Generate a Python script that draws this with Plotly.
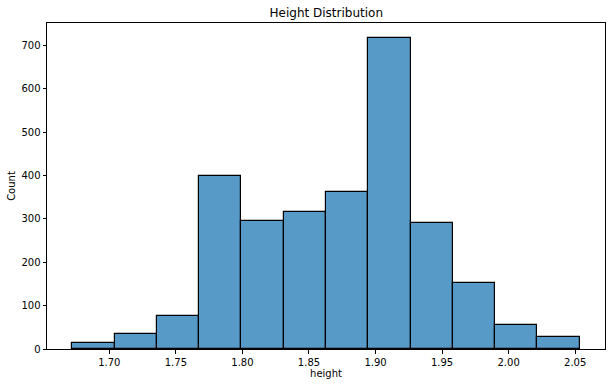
import plotly.graph_objects as go

bin_edges = [1.6722, 1.7040, 1.7357, 1.7675, 1.7992, 1.8310, 1.8628,
             1.8945, 1.9263, 1.9580, 1.9898, 2.0216, 2.0533]
counts = [14, 35, 76, 400, 295, 316, 362, 718, 291, 152, 55, 28]
x_ticks = [1.70, 1.75, 1.80, 1.85, 1.90, 1.95, 2.00, 2.05]
y_ticks = [0, 100, 200, 300, 400, 500, 600, 700]

centers = [(a + b) / 2 for a, b in zip(bin_edges[:-1], bin_edges[1:])]
widths = [b - a for a, b in zip(bin_edges[:-1], bin_edges[1:])]

fig = go.Figure(go.Bar(
    x=centers, y=counts, width=widths,
    marker=dict(color="rgba(31,119,180,0.75)", line=dict(color="black", width=1.2)),
))

font = "DejaVu Sans, sans-serif"
fig.update_layout(
    width=612, height=387,
    margin=dict(l=47.3, r=6.7, t=23.3, b=37.7),
    plot_bgcolor="white", paper_bgcolor="white",
    showlegend=False, bargap=0,
    font=dict(family=font, size=10, color="black"),
    title=dict(text="Height Distribution", x=0.5 * (47.3 + 605.3) / 612, xanchor="center",
               y=1 - 13 / 387, yanchor="middle", font=dict(size=12, color="black")),
    xaxis=dict(range=[1.6532, 2.0724], tickvals=x_ticks,
               ticktext=[f"{v:.2f}" for v in x_ticks],
               showgrid=False, zeroline=False, showline=True, linecolor="black", linewidth=1,
               mirror=True, ticks="outside", ticklen=3.5, tickcolor="black",
               title=dict(text="height", standoff=3, font=dict(size=10))),
    yaxis=dict(range=[0, 752], tickvals=y_ticks,
               showgrid=False, zeroline=False, showline=True, linecolor="black", linewidth=1,
               mirror=True, ticks="outside", ticklen=3.5, tickcolor="black",
               title=dict(text="Count", standoff=3, font=dict(size=10))),
)

fig.write_html("out.html")
